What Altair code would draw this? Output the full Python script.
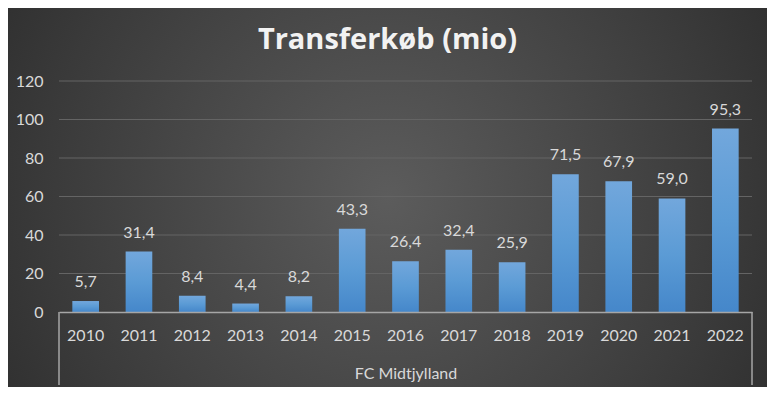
import altair as alt
import pandas as pd

years = ["2010", "2011", "2012", "2013", "2014", "2015", "2016",
         "2017", "2018", "2019", "2020", "2021", "2022"]
values = [5.7, 31.4, 8.4, 4.4, 8.2, 43.3, 26.4, 32.4, 25.9, 71.5, 67.9, 59.0, 95.3]
grid_values = [20, 40, 60, 80, 100, 120]
y_ticks = [0, 20, 40, 60, 80, 100, 120]
title_text = "Transferkøb (mio)"
group_label = "FC Midtjylland"

W, H = 693, 231
PAD = {"left": 51, "top": 73, "right": 15, "bottom": 75}

df = pd.DataFrame({
    "year": years,
    "value": values,
    "label": [f"{v:.1f}".replace(".", ",") for v in values],
})
grid_df = pd.DataFrame({"v": grid_values})
one = pd.DataFrame({"a": [0]})

TXT = "#d9d9d9"
FONT = "Lato"

xscale = alt.Scale(paddingInner=0.5, paddingOuter=0.25)
yscale = alt.Scale(domain=[0, 120], nice=False)

yaxis = alt.Axis(title=None, values=y_ticks, grid=False, domain=False,
                 ticks=False, zindex=1, labelColor=TXT,
                 labelOverlap=False, labelFlush=False,
                 labelFontSize=16, labelFont=FONT, labelPadding=16)

bg = alt.Chart(one).mark_rect(
    fill={
        "gradient": "radial",
        "x1": 0.5, "y1": 0.5, "r1": 0.0,
        "x2": 0.5, "y2": 0.5, "r2": 0.75,
        "stops": [
            {"offset": 0.0, "color": "#5c5c5c"},
            {"offset": 0.6, "color": "#3a3a3a"},
            {"offset": 1.0, "color": "#222222"},
        ],
    }
).encode(
    x=alt.value(-PAD["left"]),
    x2=alt.value(W + PAD["right"]),
    y=alt.value(-PAD["top"]),
    y2=alt.value(H + PAD["bottom"]),
)

grid = alt.Chart(grid_df).mark_rule(color="#646464", strokeWidth=1).encode(
    y=alt.Y("v:Q", scale=yscale, axis=yaxis),
    x=alt.value(0),
    x2=alt.value(W),
)

brackets = alt.Chart(pd.DataFrame({"side": [0, 1]})).mark_rule(
    color="#a6a6a6", strokeWidth=1.5
).encode(
    x=alt.X("side:Q", scale=alt.Scale(domain=[0, 1], nice=False), axis=None),
    y=alt.value(H),
    y2=alt.value(H + 73),
)

bars = alt.Chart(df).mark_bar(
    fill={
        "gradient": "linear",
        "x1": 0, "y1": 0, "x2": 0, "y2": 1,
        "stops": [
            {"offset": 0.0, "color": "#72a7dc"},
            {"offset": 0.5, "color": "#5b9bd5"},
            {"offset": 1.0, "color": "#4587ca"},
        ],
    }
).encode(
    x=alt.X("year:N", scale=xscale, sort=years,
            axis=alt.Axis(title=group_label, labelAngle=0, ticks=False,
                          zindex=1, labelOverlap=False,
                          domainColor="#a6a6a6", domainWidth=1.5,
                          labelColor=TXT, labelFontSize=16, labelFont=FONT,
                          labelPadding=15, titleColor=TXT, titleFont=FONT,
                          titleFontSize=16, titleFontWeight="normal",
                          titlePadding=22)),
    y=alt.Y("value:Q", scale=yscale, axis=yaxis),
)

labels = alt.Chart(df).mark_text(
    color=TXT, fontSize=16, font=FONT, baseline="alphabetic", dy=-14
).encode(
    x=alt.X("year:N", scale=xscale, sort=years, axis=None),
    y=alt.Y("value:Q", scale=yscale, axis=yaxis),
    text="label:N",
)

chart = alt.layer(bg, grid, brackets, bars, labels).resolve_scale(
    x="independent"
).properties(
    width=W, height=H,
    padding=PAD,
    autosize=alt.AutoSizeParams(type="none"),
    title=alt.TitleParams(
        title_text, font="Open Sans", fontSize=29, fontWeight="bold",
        color="#f2f2f2", anchor="middle", frame="group", dx=-18,
        offset=0, dy=47,
    ),
    background="#262626",
).configure_view(stroke=None)

chart.save("out.html", embed_options={"renderer": "svg", "actions": False})
